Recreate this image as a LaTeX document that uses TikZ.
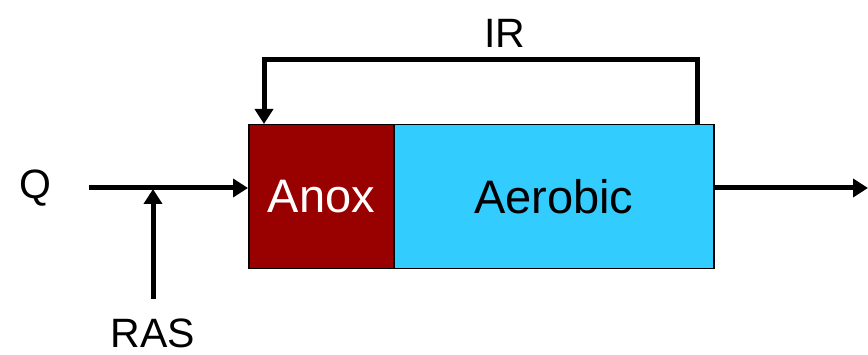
\documentclass[tikz,border=0pt]{standalone}
\usepackage{fontspec}
\setmainfont{Liberation Sans}
\usetikzlibrary{arrows.meta}
\definecolor{anoxred}{HTML}{990000}
\definecolor{aerblue}{HTML}{33CCFF}
\begin{document}
\begin{tikzpicture}[x=1pt,y=-1pt,
  tank/.style={draw=black,line width=1.5pt,minimum height=144pt,inner sep=0pt,anchor=north west},
  flow/.style={line width=5pt,-{Triangle[length=15pt,width=18pt]}},
  lbl/.style={font=\fontsize{41}{44}\selectfont,inner sep=0pt}]
\useasboundingbox (0,0) rectangle (868,355);
\node[tank,fill=anoxred,minimum width=145pt,text=white,font=\fontsize{47}{50}\selectfont] (anox) at (248,124) {Anox};
\node[tank,fill=aerblue,minimum width=320pt,font=\fontsize{47}{50}\selectfont] (aer) at (393,124) {Aerobic};
\node[lbl] (q) at (35,188) {Q};
\node[lbl] (ras) at (153,333) {RAS};
\node[lbl] (ir) at (505,33) {IR};
\coordinate (qs) at (89,188);
\coordinate (rs) at (153,299);
\coordinate (out) at (868,188);
\coordinate (irs) at (697,124);
\coordinate (ire) at (264,124);
\draw[flow] (qs) -- (qs -| anox.west);
\draw[flow] (rs) -- (153,189);
\draw[flow] (out -| aer.east) -- (out);
\draw[flow] (irs) -- (697,60) -- (264,60) -- (ire);
\end{tikzpicture}
\end{document}
